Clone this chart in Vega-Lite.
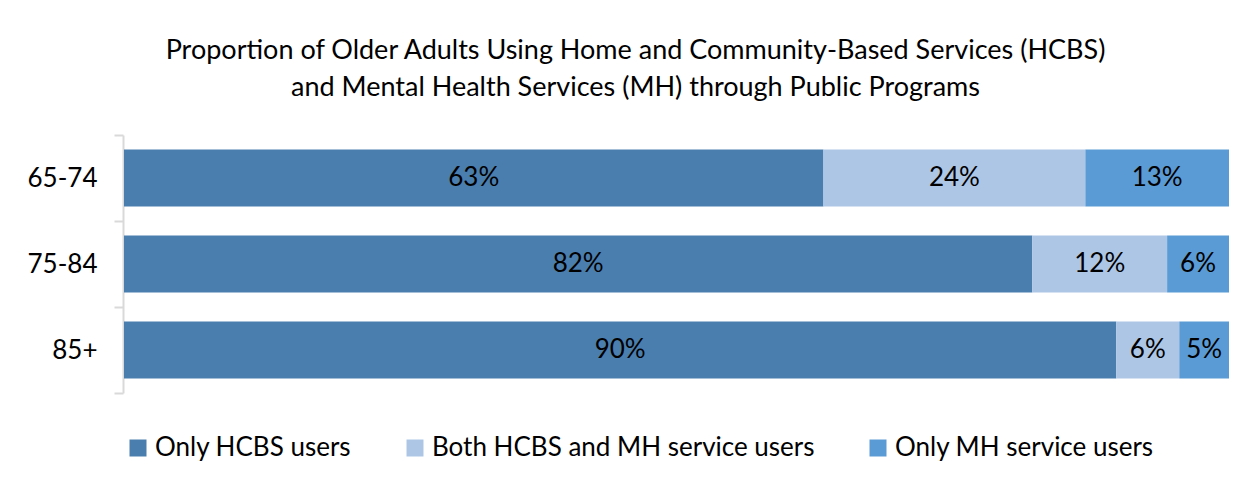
{
  "$schema": "https://vega.github.io/schema/vega-lite/v6.json",
  "width": 1105,
  "height": 258,
  "autosize": {"type": "none"},
  "padding": {"left": 124, "top": 135, "right": 19, "bottom": 89},
  "background": "white",
  "config": {
    "view": {"stroke": null},
    "font": "Lato"
  },
  "title": {
    "text": ["Proportion of Older Adults Using Home and Community-Based Services (HCBS)", "and Mental Health Services (MH) through Public Programs"],
    "font": "Lato",
    "fontSize": 27,
    "fontWeight": "normal",
    "color": "#000000",
    "anchor": "middle",
    "dx": -41,
    "offset": 20,
    "lineHeight": 37
  },
  "data": {
    "values": [
      {"age": "65-74", "group": "Only HCBS users", "ord": 1, "share": 0.633},
      {"age": "65-74", "group": "Both HCBS and MH service users", "ord": 2, "share": 0.237},
      {"age": "65-74", "group": "Only MH service users", "ord": 3, "share": 0.13},
      {"age": "75-84", "group": "Only HCBS users", "ord": 1, "share": 0.822},
      {"age": "75-84", "group": "Both HCBS and MH service users", "ord": 2, "share": 0.122},
      {"age": "75-84", "group": "Only MH service users", "ord": 3, "share": 0.056},
      {"age": "85+", "group": "Only HCBS users", "ord": 1, "share": 0.898},
      {"age": "85+", "group": "Both HCBS and MH service users", "ord": 2, "share": 0.057},
      {"age": "85+", "group": "Only MH service users", "ord": 3, "share": 0.045}
    ]
  },
  "transform": [
    {"stack": "share", "groupby": ["age"], "sort": [{"field": "ord", "order": "ascending"}], "as": ["s0", "s1"]},
    {"calculate": "(datum.s0 + datum.s1) / 2", "as": "mid"}
  ],
  "encoding": {
    "y": {
      "field": "age",
      "type": "nominal",
      "sort": ["65-74", "75-84", "85+"],
      "scale": {"paddingInner": 0, "paddingOuter": 0},
      "axis": {
        "title": null,
        "domain": true,
        "domainColor": "#D9D9D9",
        "domainWidth": 2,
        "ticks": true,
        "tickBand": "extent",
        "tickColor": "#D9D9D9",
        "tickWidth": 2,
        "tickSize": 9,
        "labelFont": "Lato",
        "labelFontSize": 26,
        "labelColor": "#000000",
        "labelPadding": 17,
        "offset": 1
      }
    }
  },
  "layer": [
    {
      "mark": {"type": "bar", "height": {"band": 0.663}},
      "encoding": {
        "x": {"field": "s0", "type": "quantitative", "scale": {"domain": [0, 1], "nice": false}, "axis": null},
        "x2": {"field": "s1"},
        "color": {
          "field": "group",
          "type": "nominal",
          "scale": {
            "domain": ["Only HCBS users", "Both HCBS and MH service users", "Only MH service users"],
            "range": ["#4A7EAF", "#ADC6E5", "#5B9BD5"]
          },
          "legend": {
            "title": null,
            "orient": "none",
            "legendX": 1,
            "legendY": 300,
            "direction": "horizontal",
            "columns": 3,
            "columnPadding": 50,
            "padding": 0,
            "symbolType": "square",
            "symbolSize": 289,
            "symbolStrokeWidth": 0,
            "symbolOpacity": 1,
            "labelFont": "Lato",
            "labelFontSize": 26,
            "labelColor": "#000000",
            "labelOffset": 4,
            "labelLimit": 0
          }
        }
      }
    },
    {
      "mark": {"type": "text", "font": "Lato", "fontSize": 26, "color": "#000000", "align": "center", "baseline": "middle"},
      "encoding": {
        "x": {"field": "mid", "type": "quantitative"},
        "text": {"field": "share", "type": "quantitative", "format": ".0%"}
      }
    }
  ]
}
